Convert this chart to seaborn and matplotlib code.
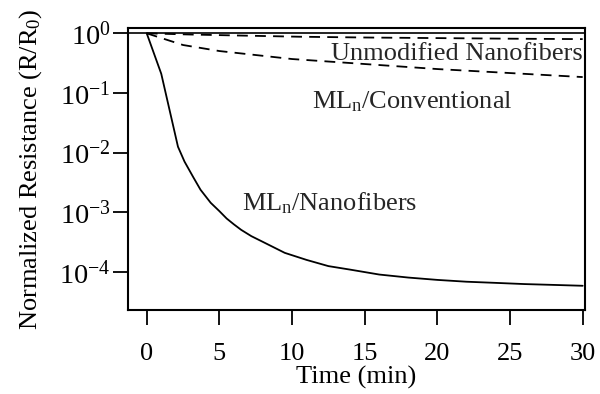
import numpy as np
import pandas as pd
import matplotlib
matplotlib.use("Agg")
import matplotlib.pyplot as plt
import seaborn as sns

# values (time in min, normalized resistance R/R0)
t_nano = [0, 1.0, 2.15, 2.6, 3.2, 3.7, 4.4, 5.0, 5.5, 6.0, 6.5, 7.2, 8, 9.5, 11, 12.5,
          14, 16, 18, 20, 22, 24, 26, 28, 30]
r_nano = [1.0, 0.21, 0.0126, 0.0071, 0.0039, 0.0024, 0.00145, 0.00105, 7.9e-4, 6.3e-4,
          5.1e-4, 4.0e-4, 3.2e-4, 2.1e-4, 1.6e-4, 1.26e-4, 1.1e-4, 9.1e-5, 8.1e-5,
          7.4e-5, 6.9e-5, 6.6e-5, 6.3e-5, 6.1e-5, 5.9e-5]

t_conv = [0, 2.5, 5, 10, 15, 20, 25, 30]
r_conv = [1.0, 0.637, 0.505, 0.371, 0.306, 0.252, 0.216, 0.185]

t_unmod = [0, 3, 7, 10.5, 15, 20, 25, 30]
r_unmod = [1.0, 0.955, 0.912, 0.877, 0.851, 0.832, 0.813, 0.80]

x_ticks = [0, 5, 10, 15, 20, 25, 30]
y_ticks = [1e-4, 1e-3, 1e-2, 1e-1, 1e0]

sns.set_theme(style="ticks")
plt.rcParams['font.family'] = ['Liberation Serif', 'DejaVu Serif']
plt.rcParams['mathtext.fontset'] = 'custom'
plt.rcParams['mathtext.rm'] = 'Liberation Serif'
plt.rcParams['mathtext.it'] = 'Liberation Serif:italic'

fig = plt.figure(figsize=(6, 3.94), dpi=100)
ax = fig.add_axes([0.2133, 0.2132, 0.7617, 0.7157])

df_nano = pd.DataFrame({'t': t_nano, 'r': r_nano})
df_conv = pd.DataFrame({'t': t_conv, 'r': r_conv})
df_unmod = pd.DataFrame({'t': t_unmod, 'r': r_unmod})

ax.axhline(1.0, color='black', lw=1.2)
sns.lineplot(data=df_nano, x='t', y='r', ax=ax, color='black', lw=1.3)
sns.lineplot(data=df_conv, x='t', y='r', ax=ax, color='black', lw=1.3, linestyle=(0, (6, 4)))
sns.lineplot(data=df_unmod, x='t', y='r', ax=ax, color='black', lw=1.3, linestyle=(0, (6, 4)))

ax.set_yscale('log')
ax.set_xlim(-1.29, 30.16)
ax.set_ylim(10 ** -4.635, 10 ** 0.089)
ax.set_xticks(x_ticks)
ax.set_yticks(y_ticks)
ax.yaxis.set_minor_locator(matplotlib.ticker.NullLocator())

fs = 19
ax.tick_params(axis='both', direction='out', length=10.5, width=1.3, color='black',
               labelsize=fs, labelcolor='black')
ax.tick_params(axis='x', pad=13)
ax.tick_params(axis='y', pad=2, labelsize=20.5)
for s in ax.spines.values():
    s.set_visible(True)
    s.set_color('black')
    s.set_linewidth(1.5)

ax.set_xlabel('Time (min)', fontsize=fs, color='black', labelpad=1)
ax.set_ylabel('Normalized Resistance (R/R$_0$)', fontsize=fs, color='black', labelpad=11)

ax.text(30.0, 0.357, 'Unmodified Nanofibers', fontsize=fs, ha='right', va='baseline')
ax.text(11.4, 0.056, 'ML$_\\mathrm{n}$/Conventional', fontsize=fs, ha='left', va='baseline')
ax.text(6.56, 0.0011, 'ML$_\\mathrm{n}$/Nanofibers', fontsize=fs, ha='left', va='baseline')

fig.savefig('out.png', dpi=100, facecolor='white')
